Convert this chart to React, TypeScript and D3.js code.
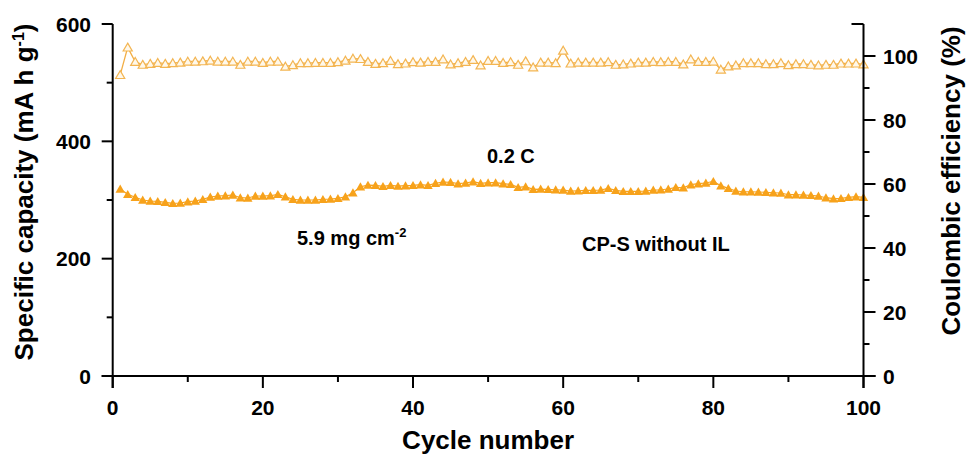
import React from 'react';
import * as d3 from 'd3';

// cycle 1..100
const capacity = [
  318.7, 309.7, 304.6, 300.0, 298.3, 297.8, 296.1, 294.4, 294.9, 297.1,
  298.3, 301.2, 305.1, 306.8, 307.3, 308.5, 303.9, 303.4, 306.8, 306.8,
  307.3, 309.7, 305.6, 301.2, 300.0, 300.0, 300.0, 301.2, 301.7, 302.9,
  305.6, 312.4, 322.7, 325.5, 325.0, 323.3, 325.0, 323.8, 324.4, 325.0,
  326.1, 325.0, 328.5, 330.7, 330.2, 327.8, 329.0, 331.2, 328.5, 329.5,
  329.5, 327.8, 326.7, 321.6, 322.7, 318.2, 318.7, 318.2, 317.5, 317.0,
  315.3, 315.8, 316.5, 316.5, 317.0, 319.9, 316.5, 314.8, 314.8, 314.8,
  315.3, 317.0, 317.5, 318.7, 321.6, 320.9, 326.1, 327.8, 329.0, 331.9,
  324.4, 319.9, 315.3, 314.1, 314.1, 313.6, 313.1, 312.4, 311.9, 309.0,
  309.0, 308.5, 308.0, 306.8, 303.9, 302.2, 302.9, 304.6, 305.6, 304.6,
];

const efficiency = [
  94.1, 102.7, 98.2, 97.3, 97.6, 97.9, 97.6, 97.8, 98.0, 98.3,
  98.3, 98.4, 98.6, 98.3, 98.3, 98.3, 97.3, 98.3, 98.3, 97.9,
  98.3, 98.3, 96.7, 97.2, 97.8, 97.8, 97.9, 97.9, 97.9, 98.1,
  98.6, 99.2, 99.1, 98.2, 97.6, 97.8, 98.5, 97.5, 97.7, 98.1,
  98.0, 98.2, 98.2, 99.0, 97.4, 97.8, 98.2, 98.8, 97.1, 98.5,
  98.5, 97.9, 98.1, 97.3, 98.4, 96.5, 98.0, 98.0, 97.8, 101.7,
  97.7, 98.0, 98.0, 98.0, 98.0, 98.1, 97.3, 97.4, 97.7, 98.0,
  98.0, 98.2, 98.1, 98.2, 98.2, 97.4, 99.0, 98.2, 98.2, 98.3,
  95.8, 96.8, 97.1, 97.8, 97.8, 97.8, 97.5, 97.5, 97.8, 97.2,
  97.5, 97.5, 97.3, 97.1, 97.3, 97.3, 97.7, 97.7, 97.7, 97.4,
];

const xTicks = [0, 20, 40, 60, 80, 100];
const xMinor = [10, 30, 50, 70, 90];
const capTicks = [0, 200, 400, 600];
const capMinor = [100, 300, 500];
const ceTicks = [0, 20, 40, 60, 80, 100];
const ceMinor = [10, 30, 50, 70, 90];

const width = 969;
const height = 456;
const plot = { left: 112.7, right: 863.5, top: 24, bottom: 376 };

const font = '"Liberation Sans", Arial, sans-serif';
const fillOrange = '#F7A21B';
const lineOrange = '#F2AE45';

export default function App() {
  const x = d3.scaleLinear().domain([0, 100]).range([plot.left, plot.right]);
  const yCap = d3.scaleLinear().domain([0, 600]).range([plot.bottom, plot.top]);
  const yCe = d3.scaleLinear().domain([0, 110]).range([plot.bottom, plot.top]);

  const cycles = capacity.map((_, i) => i + 1);
  const triFilled = d3.symbol().type(d3.symbolTriangle).size(38)();
  const triHollow = d3.symbol().type(d3.symbolTriangle).size(36)();

  const capLine = d3.line<number>().x((_, i) => x(cycles[i])).y((d) => yCap(d));
  const ceLine = d3.line<number>().x((_, i) => x(cycles[i])).y((d) => yCe(d));

  const ax = { stroke: '#000', strokeWidth: 2 };

  return (
    <svg
      width={width}
      height={height}
      style={{ position: 'absolute', left: 0, top: 0, background: '#fff' }}
      fontFamily={font}
    >
      {/* data */}
      <path d={ceLine(efficiency) ?? ''} fill="none" stroke={lineOrange} strokeWidth={1.3} />
      {efficiency.map((d, i) => (
        <path
          key={'ce' + i}
          d={triHollow}
          transform={`translate(${x(cycles[i])},${yCe(d) + 1})`}
          fill="#FFF8EA"
          stroke="#F3B552"
          strokeWidth={1.2}
        />
      ))}
      <path d={capLine(capacity) ?? ''} fill="none" stroke={fillOrange} strokeWidth={1.2} />
      {capacity.map((d, i) => (
        <path
          key={'cap' + i}
          d={triFilled}
          transform={`translate(${x(cycles[i])},${yCap(d) + 1})`}
          fill={fillOrange}
        />
      ))}

      {/* x axis */}
      <line x1={plot.left - 11} x2={plot.right + 12} y1={plot.bottom} y2={plot.bottom} {...ax} />
      {xTicks.map((t) => (
        <g key={'xt' + t}>
          <line x1={x(t)} x2={x(t)} y1={plot.bottom} y2={plot.bottom + 12} {...ax} />
          <text x={x(t)} y={415} textAnchor="middle" fontSize={21} fontWeight="bold">
            {t}
          </text>
        </g>
      ))}
      {xMinor.map((t) => (
        <line key={'xm' + t} x1={x(t)} x2={x(t)} y1={plot.bottom} y2={plot.bottom + 6} {...ax} />
      ))}
      <text x={(plot.left + plot.right) / 2} y={449} textAnchor="middle" fontSize={26} fontWeight="bold">
        Cycle number
      </text>

      {/* left axis */}
      <line x1={plot.left} x2={plot.left} y1={plot.top} y2={plot.bottom + 12} {...ax} />
      {capTicks.map((t) => (
        <g key={'ct' + t}>
          <line x1={plot.left - 11} x2={plot.left} y1={yCap(t)} y2={yCap(t)} {...ax} />
          <text x={91} y={yCap(t) + 7.5} textAnchor="end" fontSize={21} fontWeight="bold">
            {t}
          </text>
        </g>
      ))}
      {capMinor.map((t) => (
        <line key={'cm' + t} x1={plot.left - 6} x2={plot.left} y1={yCap(t)} y2={yCap(t)} {...ax} />
      ))}
      <text
        transform="translate(33,192) rotate(-90)"
        textAnchor="middle"
        fontSize={26}
        fontWeight="bold"
      >
        Specific capacity (mA h g
        <tspan dy={-9} fontSize={16}>-1</tspan>
        <tspan dy={9}>)</tspan>
      </text>

      {/* right axis */}
      <line x1={plot.right} x2={plot.right} y1={plot.top} y2={plot.bottom + 12} {...ax} />
      <line x1={plot.right - 12} x2={plot.right} y1={plot.top} y2={plot.top} {...ax} />
      {ceTicks.map((t) => (
        <g key={'et' + t}>
          <line x1={plot.right} x2={plot.right + 12} y1={yCe(t)} y2={yCe(t)} {...ax} />
          <text x={883} y={yCe(t) + 7.5} textAnchor="start" fontSize={21} fontWeight="bold">
            {t}
          </text>
        </g>
      ))}
      {ceMinor.map((t) => (
        <line key={'em' + t} x1={plot.right} x2={plot.right + 6} y1={yCe(t)} y2={yCe(t)} {...ax} />
      ))}
      <text
        transform="translate(960,181) rotate(-90)"
        textAnchor="middle"
        fontSize={26}
        fontWeight="bold"
      >
        Coulombic efficiency (%)
      </text>

      {/* annotations */}
      <text x={487} y={163} fontSize={20} fontWeight="bold">0.2 C</text>
      <text x={297} y={245} fontSize={20} fontWeight="bold">
        5.9 mg cm
        <tspan dy={-8} fontSize={13}>-2</tspan>
      </text>
      <text x={582} y={251} fontSize={20} fontWeight="bold">CP-S without IL</text>
    </svg>
  );
}
